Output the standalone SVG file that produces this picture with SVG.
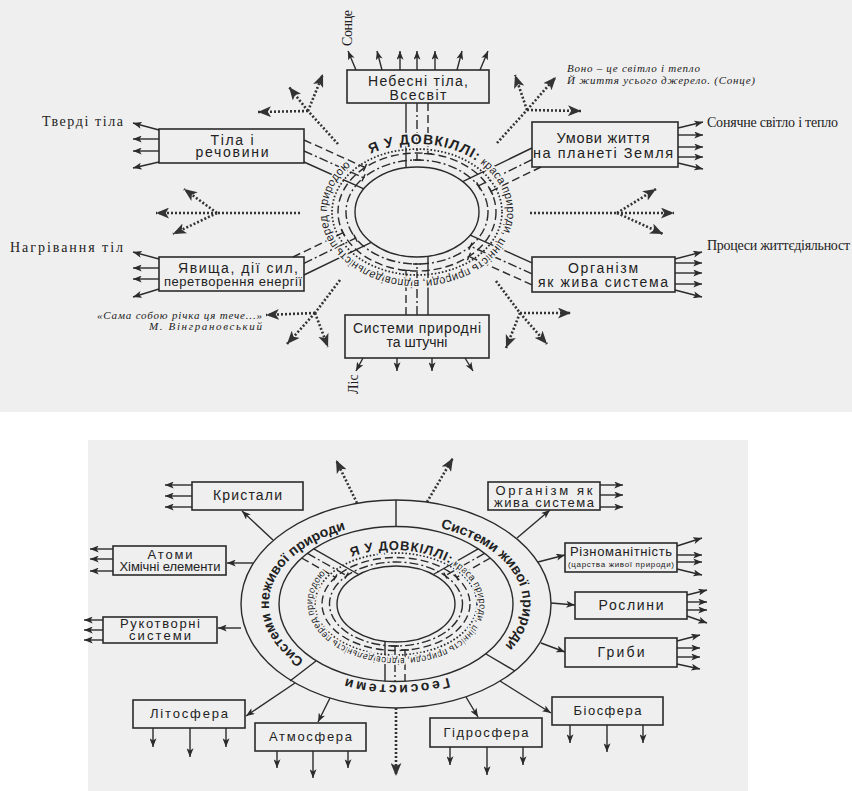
<svg xmlns="http://www.w3.org/2000/svg" xmlns:xlink="http://www.w3.org/1999/xlink" width="852" height="791" viewBox="0 0 852 791">
<style>
.box{fill:none;stroke:#2b2b2b;stroke-width:1.6}
.ln{fill:none;stroke:#2b2b2b;stroke-width:1.4}
.da{stroke-dasharray:8 4}
.dd{stroke-dasharray:9 3 2 3}
.dt{stroke-dasharray:1.6 2;stroke-width:1.8}
.dar{fill:none;stroke:#333;stroke-width:2.6;stroke-dasharray:2 2}
.t{font-family:"Liberation Sans",Arial,sans-serif;fill:#222;text-anchor:middle}
.s{font-family:"Liberation Serif","Times New Roman",serif;fill:#222;font-size:14px}
.i{font-family:"Liberation Serif","Times New Roman",serif;fill:#222;font-size:11px;font-style:italic}
.rg{font-family:"Liberation Sans",Arial,sans-serif;fill:#222}
.halo{paint-order:stroke;stroke:#efefef;stroke-width:3.5;stroke-linejoin:round}
</style>
<defs>
<marker id="ah" viewBox="0 0 10 8" refX="10" refY="4" markerWidth="9" markerHeight="7" markerUnits="userSpaceOnUse" orient="auto"><path d="M0,0L10,4L0,8L2.5,4z" fill="#2b2b2b"/></marker>
<marker id="dh" viewBox="0 0 12 10" refX="12" refY="5" markerWidth="13" markerHeight="11" markerUnits="userSpaceOnUse" orient="auto"><path d="M0,0L12,5L0,10L3,5z" fill="#333"/></marker>
<path id="tp1" d="M370.6,153.7 A90,68 0 0 1 463.4,270.3 A90,68 0 0 1 370.6,153.7"/>
<path id="tp2" d="M351.7,556.9 A86,55 0 0 1 440.3,651.1 A86,55 0 0 1 351.7,556.9"/>
<path id="tpL" d="M518.1,626.3 A127,81 0 0 1 273.9,581.7 A127,81 0 0 1 518.1,626.3"/>
<path id="tpR" d="M280.9,638.3 A127,81 0 0 1 511.1,569.7 A127,81 0 0 1 280.9,638.3"/>
<path id="tpB" d="M396,523 A127,81 0 0 1 396,685 A127,81 0 0 1 396,523"/>
</defs>
<rect x="0" y="0" width="852" height="791" fill="#ffffff"/>
<rect x="0" y="0" width="852" height="412" fill="#efefef"/>
<rect x="88" y="440" width="660" height="351" fill="#efefef"/>

<!-- ============ TOP DIAGRAM ============ -->
<g id="top-core">
<ellipse cx="417" cy="212" rx="62" ry="45" class="ln" stroke-width="1.6"/>
<ellipse cx="417" cy="212" rx="71" ry="52" class="ln dd"/>
<ellipse cx="417" cy="212" rx="79" ry="59" class="ln da"/>
<ellipse cx="417" cy="212" rx="85" ry="63" class="ln dt"/>
</g>
<g id="top-connectors">
<path class="ln" d="M406,103V167.7M428,315V256.3M304,162L363.8,188.9M532,148L462.7,181.6M532,262.9L470.2,235.1M304,275L371.3,242.4"/>
<path class="ln dd" d="M417,103V160M417,315V264M304,151L363.5,177.8M532,159.7L478.4,185.8M532,273.9L470.5,246.2M304,263.3L355.6,238.2"/>
<path class="ln da" d="M428,103V153.6M406,315V270.4M304,140L365,167.5M541,167L491,191.3M532,284.9L469,256.5M293,257L343,232.7"/>
<path class="ln" d="M413,160H421M424,153.6H432M413,264H421M402,270.4H410M365.1,174.2L361.9,181.4M366.6,163.9L363.4,171.2M476.7,182.2L480.2,189.4M489.3,187.7L492.8,194.9M468.9,249.8L472.1,242.6M467.4,260.1L470.6,252.8M357.3,241.8L353.8,234.6M344.7,236.3L341.2,229.1"/>
<!-- box arrows -->
<g class="ln" marker-end="url(#ah)">
<path d="M356,70L348,51"/><path d="M382,70L377,51"/><path d="M400,70V51"/><path d="M417,70V51"/><path d="M435,70V51"/><path d="M457,70L462,51"/><path d="M480,70L488,51"/>
<path d="M159,130L133,123"/><path d="M159,139H133"/><path d="M159,151H133"/><path d="M159,162L133,168"/>
<path d="M678,128L703,122"/><path d="M678,135H703"/><path d="M678,147H703"/><path d="M678,157H703"/><path d="M678,163L703,169"/>
<path d="M159,259L133,252"/><path d="M159,268H133"/><path d="M159,279H133"/><path d="M159,289L133,297"/>
<path d="M675,259L702,252"/><path d="M675,263H702"/><path d="M675,273H702"/><path d="M675,284H702"/><path d="M675,290L702,297"/>
<path d="M363,358L356,371"/><path d="M397,358V371"/><path d="M432,358V371"/><path d="M465,358L473,371"/>
</g>
<!-- dotted bursts -->
<path class="dar" d="M338,144L308,111M497,143L527,110M300,213H217M530,213H617M340,280L315,313M496,281L520,313"/>
<g class="dar" marker-end="url(#dh)">
<path d="M308,111L258,112"/><path d="M308,111L289,87"/><path d="M308,111L323,74"/>
<path d="M527,110L581,111"/><path d="M527,110L556,77"/><path d="M527,110L515,75"/>
<path d="M217,213H156"/><path d="M217,213L184,189"/><path d="M217,213L173,234"/>
<path d="M617,213H674"/><path d="M617,213L656,189"/><path d="M617,213L663,234"/>
<path d="M315,313L266,315"/><path d="M315,313L287,344"/><path d="M315,313L328,347"/>
<path d="M520,313L571,313"/><path d="M520,313L506,348"/><path d="M520,313L547,344"/>
</g>
</g>
<g id="top-ring-text">
<text class="rg halo" font-size="11.5"><textPath xlink:href="#tp1" href="#tp1"><tspan font-weight="bold" font-size="14" letter-spacing="1">Я У ДОВКІЛЛІ:</tspan> краса природи, цінність природи, відповідальність перед природою</textPath></text>
</g>
<g id="n-nebesni">
<rect class="box" x="347" y="70" width="142" height="33"/>
<text class="t" font-size="14" x="418" y="86" textLength="100">Небесні тіла,</text>
<text class="t" font-size="14" x="418" y="100" textLength="57">Всесвіт</text>
</g>
<g id="n-tila">
<rect class="box" x="159" y="129" width="145" height="34"/>
<text class="t" font-size="14" x="232" y="145" textLength="43">Тіла і</text>
<text class="t" font-size="14" x="232" y="157" textLength="73">речовини</text>
</g>
<g id="n-umovy">
<rect class="box" x="532" y="122" width="146" height="45"/>
<text class="t" font-size="14.5" x="603" y="143" textLength="93">Умови життя</text>
<text class="t" font-size="14.5" x="603" y="158" textLength="140">на планеті Земля</text>
</g>
<g id="n-yavyshcha">
<rect class="box" x="159" y="257" width="145" height="34"/>
<text class="t" font-size="14" x="238" y="273" textLength="120">Явища, дії сил,</text>
<text class="t" font-size="13" x="233" y="286" textLength="138">перетворення енергії</text>
</g>
<g id="n-orhanizm">
<rect class="box" x="532" y="257" width="143" height="35"/>
<text class="t" font-size="14" x="603" y="273" textLength="70">Організм</text>
<text class="t" font-size="14" x="603" y="287" textLength="130">як жива система</text>
</g>
<g id="n-systemy">
<rect class="box" x="345" y="315" width="144" height="43"/>
<text class="t" font-size="14" x="417" y="333" textLength="128">Системи природні</text>
<text class="t" font-size="14" x="417" y="347">та штучні</text>
</g>
<g id="top-labels">
<text class="s" transform="translate(352,46) rotate(-90)" textLength="36">Сонце</text>
<text class="s" transform="translate(358,394) rotate(-90)">Ліс</text>
<text class="s" x="42" y="126" textLength="81">Тверді тіла</text>
<text class="s" x="707" y="127" textLength="131">Сонячне світло і тепло</text>
<text class="s" x="10" y="252" textLength="113">Нагрівання тіл</text>
<text class="s" x="707" y="250" textLength="143">Процеси життєдіяльност</text>
<text class="i" x="567" y="72" textLength="133">Воно – це світло і тепло</text>
<text class="i" x="567" y="84" textLength="188">Й життя усього джерело. (Сонце)</text>
<text class="i" x="97" y="319" textLength="165">«Сама собою річка ця тече...»</text>
<text class="i" x="149" y="330" textLength="113">М. Вінграновський</text>
</g>

<!-- ============ BOTTOM DIAGRAM ============ -->
<g id="bottom-core">
<ellipse cx="396" cy="604" rx="155" ry="104" class="ln" stroke-width="2.2"/>
<ellipse cx="396" cy="604" rx="117" ry="77.5" class="ln" stroke-width="2"/>
<ellipse cx="396" cy="604" rx="81" ry="51" class="ln dt"/>
<ellipse cx="396" cy="604" rx="74" ry="46.5" class="ln da"/>
<ellipse cx="396" cy="604" rx="66.5" ry="42" class="ln dd"/>
<ellipse cx="396" cy="604" rx="59" ry="38" class="ln" stroke-width="1.6"/>
<path class="ln" stroke-width="1.8" d="M396,500V526.5M316,661L290,681M486,654L515,671"/>
</g>
<g id="bottom-connectors">
<path class="ln" d="M385,641.3V681.5M313.8,548.8L358.7,574.5M478.2,548.8L433.3,574.5"/>
<path class="ln dd" d="M395,646V681.5M307.5,553.3L346.6,575.7M484.5,553.3L445.4,575.7"/>
<path class="ln da" d="M405,650V681.5M301.6,558L335.3,577.3M490.4,558L456.7,577.3"/>
<path class="ln" d="M391,646H399M401,650H409M344.9,578.7L348.3,572.7M333.6,580.3L337,574.3M447.1,578.7L443.7,572.7M458.4,580.3L455,574.3"/>
<g class="ln" marker-end="url(#ah)">
<path d="M273,540L242,511"/><path d="M192,485H165"/><path d="M192,496H165"/><path d="M192,507H165"/>
<path d="M253,563H227"/><path d="M113,549H90"/><path d="M113,559H90"/><path d="M113,571H90"/>
<path d="M241,628H218"/><path d="M103,620H84"/><path d="M103,630H84"/><path d="M103,640H84"/>
<path d="M295,683L246,716"/><path d="M153,728V747"/><path d="M190,728V757"/><path d="M226,728V747"/>
<path d="M330,698L318,722"/><path d="M277,751V768"/><path d="M313,751V778"/><path d="M348,751V768"/>
<path d="M466,697L478,717"/><path d="M450,747V765"/><path d="M487,747V775"/><path d="M523,747V765"/>
<path d="M500,681L551,713"/><path d="M570,725V743"/><path d="M607,725V752"/><path d="M643,725V743"/>
<path d="M541,643L565,652"/><path d="M677,641L700,635"/><path d="M677,648H700"/><path d="M677,657H700"/><path d="M677,664L700,669"/>
<path d="M551,603L575,605"/><path d="M687,595L707,590"/><path d="M687,602H707"/><path d="M687,610H707"/><path d="M687,616L707,623"/>
<path d="M538,562L565,555"/><path d="M677,546L702,538"/><path d="M677,555H702"/><path d="M677,562H702"/><path d="M677,569L702,575"/>
<path d="M517,538L550,510"/><path d="M600,485H623"/><path d="M600,495H623"/><path d="M600,507H623"/>
</g>
<g class="dar" marker-end="url(#dh)">
<path d="M396,708V776"/><path d="M357,503L336,460"/><path d="M427,502L453,458"/>
</g>
</g>
<g id="bottom-ring-text">
<text class="rg halo" font-size="9.6"><textPath xlink:href="#tp2" href="#tp2"><tspan font-weight="bold" font-size="13" letter-spacing="0.8">Я У ДОВКІЛЛІ:</tspan> краса природи, цінність природи, відповідальність перед природою</textPath></text>
<text class="rg" font-size="14" font-weight="bold" text-anchor="middle"><textPath xlink:href="#tpL" href="#tpL" startOffset="50%">Системи неживої природи</textPath></text>
<text class="rg" font-size="14" font-weight="bold" text-anchor="middle"><textPath xlink:href="#tpR" href="#tpR" startOffset="50%">Системи живої природи</textPath></text>
<text class="rg" font-size="14" font-weight="bold" text-anchor="middle" letter-spacing="2.5"><textPath xlink:href="#tpB" href="#tpB" startOffset="50%">Геосистеми</textPath></text>
</g>
<g id="n-krystaly"><rect class="box" x="192" y="482" width="111" height="28"/><text class="t" font-size="14" x="247.5" y="500" textLength="69">Кристали</text></g>
<g id="n-atomy"><rect class="box" x="113" y="546" width="113" height="29"/><text class="t" font-size="13" x="170" y="559" textLength="45">Атоми</text><text class="t" font-size="13" x="170" y="571" textLength="101">Хімічні елементи</text></g>
<g id="n-rukotvorni"><rect class="box" x="103" y="617" width="114" height="26"/><text class="t" font-size="13" x="160" y="628" textLength="80">Рукотворні</text><text class="t" font-size="13" x="160" y="640" textLength="62">системи</text></g>
<g id="n-orhanizm2"><rect class="box" x="488" y="482" width="112" height="28"/><text class="t" font-size="13" x="544" y="495" textLength="97">Організм як</text><text class="t" font-size="13" x="544" y="507" textLength="100">жива система</text></g>
<g id="n-riznoman"><rect class="box" x="565" y="543" width="112" height="29"/><text class="t" font-size="13" x="621" y="556" textLength="102">Різноманітність</text><text class="t" font-size="8" x="621" y="567" textLength="106">(царства живої природи)</text></g>
<g id="n-roslyny"><rect class="box" x="575" y="592" width="112" height="27"/><text class="t" font-size="14" x="631" y="610" textLength="65">Рослини</text></g>
<g id="n-hryby"><rect class="box" x="565" y="638" width="112" height="29"/><text class="t" font-size="14" x="621" y="657" textLength="47">Гриби</text></g>
<g id="n-lito"><rect class="box" x="133" y="700" width="112" height="28"/><text class="t" font-size="13" x="189" y="718" textLength="78">Літосфера</text></g>
<g id="n-atmo"><rect class="box" x="255" y="723" width="111" height="28"/><text class="t" font-size="13" x="310.5" y="741" textLength="83">Атмосфера</text></g>
<g id="n-hidro"><rect class="box" x="430" y="718" width="112" height="29"/><text class="t" font-size="13" x="486" y="737" textLength="85">Гідросфера</text></g>
<g id="n-bio"><rect class="box" x="552" y="697" width="111" height="28"/><text class="t" font-size="13" x="607.5" y="715" textLength="68">Біосфера</text></g>
</svg>
